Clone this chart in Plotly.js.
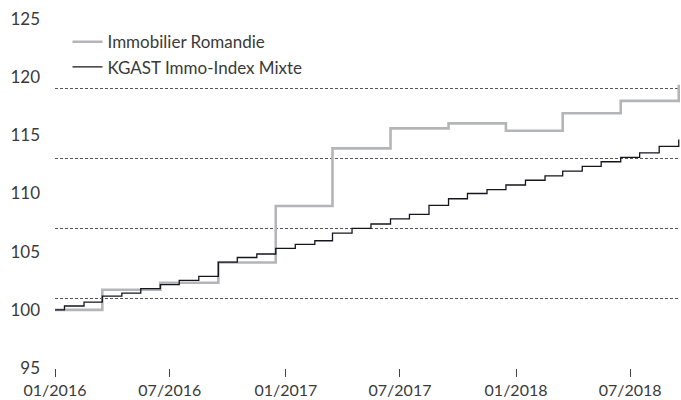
<!DOCTYPE html>
<html>
<head>
<meta charset="utf-8">
<script src="https://cdn.plot.ly/plotly-3.0.1.min.js"></script>
<style>
  html, body { margin: 0; padding: 0; background: #ffffff; }
  #chart { width: 681px; height: 400px; }
</style>
</head>
<body>
<div id="chart"></div>
<script>
// Immobilier Romandie (quarterly steps)
const romandieDates = ['2016-01-01','2016-03-16','2016-06-16','2016-09-16','2016-12-16','2017-03-16','2017-06-16','2017-09-16','2017-12-16','2018-03-16','2018-06-16','2018-09-16'];
const romandieValues = [100, 101.72, 102.33, 104.07, 108.93, 113.88, 115.6, 116.03, 115.4, 116.9, 117.96, 119.35];

// KGAST Immo-Index Mixte (monthly steps)
const kgastDates = ['2016-01-01','2016-01-16','2016-02-16','2016-03-16','2016-04-16','2016-05-16','2016-06-16','2016-07-16','2016-08-16','2016-09-16','2016-10-16','2016-11-16','2016-12-16',
  '2017-01-16','2017-02-16','2017-03-16','2017-04-16','2017-05-16','2017-06-16','2017-07-16','2017-08-16','2017-09-16','2017-10-16','2017-11-16','2017-12-16',
  '2018-01-16','2018-02-16','2018-03-16','2018-04-16','2018-05-16','2018-06-16','2018-07-16','2018-08-16','2018-09-16'];
const kgastValues = [100, 100.33, 100.67, 101.17, 101.43, 101.82, 102.17, 102.54, 102.88, 104.1, 104.5, 104.8, 105.29,
  105.63, 105.94, 106.6, 107.0, 107.38, 107.82, 108.2, 108.98, 109.55, 110.0, 110.33, 110.73,
  111.14, 111.52, 111.93, 112.33, 112.73, 113.1, 113.5, 114.05, 114.65];

const seriesNames = ['Immobilier Romandie', 'KGAST Immo-Index Mixte'];
const yLabelTicks = [95, 100, 105, 110, 115, 120, 125];
const yGridTicks = [95, 101, 107, 113, 119, 125];
const xTickVals = ['2016-01-01','2016-07-01','2017-01-01','2017-07-01','2018-01-01','2018-07-01'];
const xTickText = ['01/2016','07/2016','01/2017','07/2017','01/2018','07/2018'];

const FONT = 'Lato, "Open Sans", sans-serif';
const TEXT = '#3a3a3a';

const traces = [
  {
    x: romandieDates, y: romandieValues, name: seriesNames[0],
    type: 'scatter', mode: 'lines', line: { shape: 'hv', color: '#b3b5b8', width: 2.6 },
    legendgroup: 'a', yaxis: 'y'
  },
  {
    x: kgastDates, y: kgastValues, name: seriesNames[1],
    type: 'scatter', mode: 'lines', line: { shape: 'hv', color: '#15151f', width: 1.3 },
    legendgroup: 'b', yaxis: 'y'
  }
];

const layout = {
  width: 681, height: 400,
  margin: { l: 55, r: 1, t: 19, b: 32 },
  paper_bgcolor: '#ffffff', plot_bgcolor: '#ffffff',
  font: { family: FONT, size: 17, color: TEXT },
  showlegend: true,
  legend: {
    x: 0.02, y: 0.985, xanchor: 'left', yanchor: 'top',
    bgcolor: 'rgba(0,0,0,0)', font: { family: FONT, size: 17, color: TEXT },
    tracegroupgap: 4, traceorder: 'normal'
  },
  xaxis: {
    type: 'date', range: ['2016-01-01', '2018-09-18'],
    tickvals: xTickVals, ticktext: xTickText,
    ticks: 'outside', ticklen: 8, tickwidth: 1, tickcolor: '#444',
    showgrid: false, zeroline: false, showline: false,
    tickfont: { family: FONT, size: 16, color: TEXT }
  },
  yaxis: {
    range: [95, 125], tickvals: yLabelTicks,
    showgrid: false, zeroline: false, showline: false, ticks: '',
    ticklabelstandoff: 14,
    tickfont: { family: FONT, size: 17, color: TEXT }
  },
  yaxis2: {
    range: [95, 125], tickvals: yGridTicks, overlaying: 'y',
    showgrid: true, gridcolor: '#555', gridwidth: 1, griddash: '3px,2px',
    showticklabels: false, zeroline: false, showline: false, ticks: ''
  }
};

// invisible helper trace so that the overlaying axis (used only for the dotted grid) is drawn
traces.unshift({ x: [romandieDates[0]], y: [100], yaxis: 'y2', mode: 'lines', showlegend: false, hoverinfo: 'skip', line: { width: 0 } });

Plotly.newPlot('chart', traces, layout, { displayModeBar: false, staticPlot: true });
</script>
</body>
</html>
